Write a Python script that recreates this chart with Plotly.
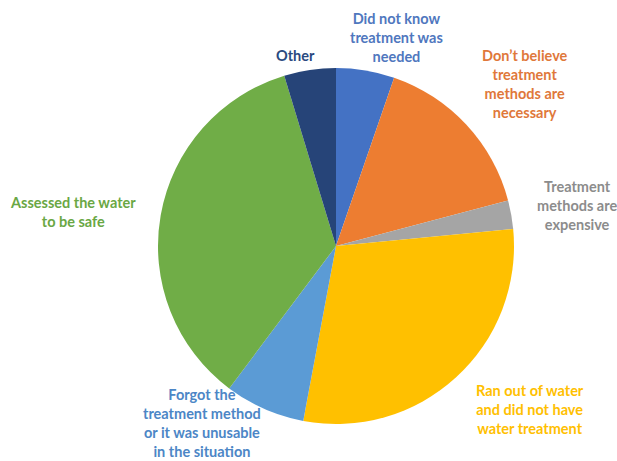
import plotly.graph_objects as go

categories = [
    "Did not know treatment was needed",
    "Don't believe treatment methods are necessary",
    "Treatment methods are expensive",
    "Ran out of water and did not have water treatment",
    "Forgot the treatment method or it was unusable in the situation",
    "Assessed the water to be safe",
    "Other",
]
values = [5.3, 15.6, 2.6, 29.5, 7.3, 35.1, 4.7]

label_texts = [
    "Did not know<br>treatment was<br>needed",
    "Don\u2019t believe<br>treatment<br>methods are<br>necessary",
    "Treatment<br>methods are<br>expensive",
    "Ran out of water<br>and did not have<br>water treatment",
    "Forgot the<br>treatment method<br>or it was unusable<br>in the situation",
    "Assessed the water<br>to be safe",
    "Other",
]

slice_colors = ["#4472C4", "#ED7D31", "#A5A5A5", "#FFC000", "#5B9BD5", "#70AD47", "#264478"]
text_colors = ["#4F77BE", "#E0783A", "#8C8C8C", "#FFC000", "#4C86C6", "#6AA744", "#2A4A80"]
# label centres in pixels (x, y from top)
label_pos = [(396, 38), (525, 84), (577, 205), (530, 409), (202, 423), (73, 212), (295, 56)]

W, H = 617, 461
cx, cy, r = 336, 246, 178

fig = go.Figure(go.Pie(
    labels=categories,
    values=values,
    sort=False,
    direction="clockwise",
    rotation=0,
    marker=dict(colors=slice_colors, line=dict(width=0)),
    textinfo="none",
    hoverinfo="label+percent",
    showlegend=False,
    domain=dict(x=[(cx - r) / W, (cx + r) / W], y=[(H - cy - r) / H, (H - cy + r) / H]),
))

for txt, col, (px, py) in zip(label_texts, text_colors, label_pos):
    fig.add_annotation(
        x=px / W, y=1 - py / H, xref="paper", yref="paper",
        text="<b>" + txt + "</b>", showarrow=False,
        font=dict(family="Lato", size=14.5, color=col),
        align="center", xanchor="center", yanchor="middle",
    )

fig.update_layout(
    width=W, height=H,
    margin=dict(l=0, r=0, t=0, b=0),
    paper_bgcolor="white",
    plot_bgcolor="white",
)

fig.write_html("out.html")
